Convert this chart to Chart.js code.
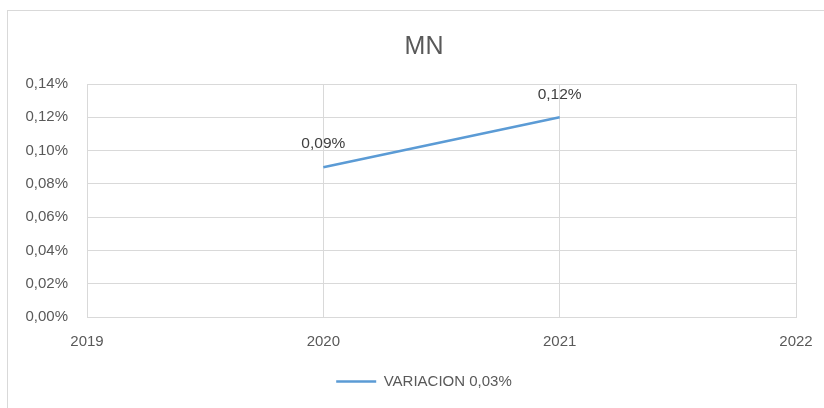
<!DOCTYPE html>
<html>
<head>
<meta charset="utf-8">
<script src="https://cdn.jsdelivr.net/npm/chart.js@4/dist/chart.umd.min.js"></script>
<style>
  body { margin: 0; background: #fff; overflow: hidden; }
  #frame { position: absolute; left: 7px; top: 10px; width: 832px; height: 400px; border: 1px solid #d9d9d9; background: #fff; }
  #frame canvas { display: block; }
</style>
</head>
<body>
<div id="frame"><canvas id="myChart" width="832" height="400"></canvas></div>
<script>
var years = ['2019', '2020', '2021', '2022'];
var variacion = [null, 0.09, 0.12, null];
var yTicks = [0, 0.02, 0.04, 0.06, 0.08, 0.10, 0.12, 0.14];

function pct(v) {
  return v.toFixed(2).replace('.', ',') + '%';
}

// etiquetas de datos encima de cada punto
var pointLabels = {
  id: 'pointLabels',
  afterDatasetsDraw: function (chart) {
    var ctx = chart.ctx;
    var meta = chart.getDatasetMeta(0);
    ctx.save();
    ctx.font = '15.5px "Liberation Sans", Arial, sans-serif';
    ctx.fillStyle = '#404040';
    ctx.textAlign = 'center';
    ctx.textBaseline = 'middle';
    meta.data.forEach(function (pt, i) {
      var v = chart.data.datasets[0].data[i];
      if (v === null) return;
      ctx.fillText(pct(v), pt.x, pt.y - 23);
    });
    ctx.restore();
  }
};

var ctx = document.getElementById('myChart').getContext('2d');
var myChart = new Chart(ctx, {
  type: 'line',
  data: {
    labels: years,
    datasets: [{
      label: 'VARIACION 0,03%',
      data: variacion,
      borderColor: '#5b9bd5',
      backgroundColor: '#5b9bd5',
      borderWidth: 2.5,
      pointRadius: 0,
      pointStyle: 'line',
      tension: 0
    }]
  },
  options: {
    responsive: false,
    animation: false,
    layout: { padding: { left: 0, right: 0, top: 0, bottom: 12 } },
    plugins: {
      title: {
        display: true,
        text: 'MN',
        color: '#595959',
        font: { family: '"Liberation Sans", Arial, sans-serif', size: 25, weight: 'normal' },
        padding: { top: 21, bottom: 22 }
      },
      legend: {
        position: 'bottom',
        labels: {
          usePointStyle: true,
          pointStyleWidth: 40,
          color: '#595959',
          font: { family: '"Liberation Sans", Arial, sans-serif', size: 15 }
        }
      },
      tooltip: { enabled: false }
    },
    scales: {
      x: {
        offset: false,
        grid: { color: '#d9d9d9', drawTicks: false },
        border: { color: '#d9d9d9' },
        ticks: {
          color: '#595959',
          padding: 16,
          font: { family: '"Liberation Sans", Arial, sans-serif', size: 15 }
        },
        afterFit: function (s) { s.height = 47; s.paddingRight = 44; }
      },
      y: {
        min: 0,
        max: 0.14,
        afterBuildTicks: function (s) {
          s.ticks = yTicks.map(function (v) { return { value: v }; });
        },
        grid: { color: '#d9d9d9', drawTicks: false },
        border: { color: '#d9d9d9' },
        ticks: {
          color: '#595959',
          padding: 19,
          font: { family: '"Liberation Sans", Arial, sans-serif', size: 15 },
          callback: function (v) { return pct(v); }
        },
        afterFit: function (s) { s.width = 79; }
      }
    }
  },
  plugins: [pointLabels]
});
</script>
</body>
</html>
